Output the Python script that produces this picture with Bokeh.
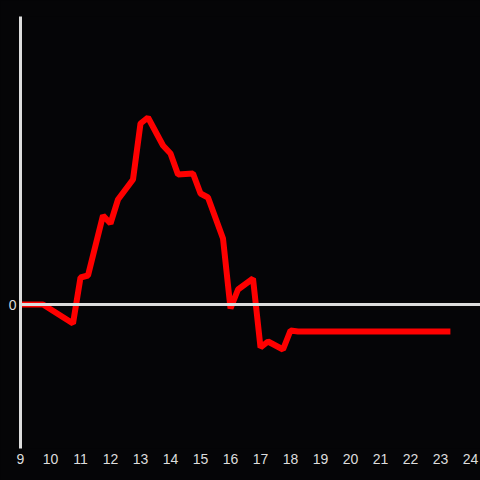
from bokeh.plotting import figure
from bokeh.models import Range1d, FixedTicker, Span
from bokeh.embed import file_html
from bokeh.resources import INLINE

# Data (x = hour of day, y = value; arbitrary units)
hours = [9, 9.75, 10.75, 11, 11.25, 11.75, 12, 12.25, 12.75, 13, 13.25, 13.75,
         14, 14.25, 14.75, 15, 15.25, 15.75, 16, 16.25, 16.75, 17, 17.25, 17.75,
         18, 18.25, 23.33]
values = [0, 0, -19, 27, 29, 89, 81, 105, 125, 181, 187, 159,
          151, 130, 131, 111, 107, 66, -4, 15, 26, -43, -37, -45,
          -26, -27, -27]
x_ticks = list(range(9, 25))
y_ticks = [0]

BG = "#050507"
AX = "#dddddd"

p = figure(width=480, height=480, output_backend="svg", toolbar_location=None,
           x_range=Range1d(9, 24.333), y_range=Range1d(-144, 288),
           min_border_left=20, min_border_right=0, min_border_top=16,
           min_border_bottom=32)
p.background_fill_color = BG
p.border_fill_color = BG
p.outline_line_color = None
p.grid.visible = False

xa = p.xaxis[0]
xa.ticker = FixedTicker(ticks=x_ticks)
xa.axis_line_color = None
xa.major_tick_line_color = None
xa.major_tick_out = 0
xa.major_tick_in = 0
xa.minor_tick_line_color = None
xa.minor_tick_out = 0
xa.major_label_text_color = AX
xa.major_label_text_font = "Liberation Sans"
xa.major_label_text_font_size = "14px"
xa.major_label_standoff = 5

ya = p.yaxis[0]
ya.ticker = FixedTicker(ticks=y_ticks)
ya.axis_line_color = AX
ya.axis_line_width = 3
ya.major_tick_line_color = None
ya.major_tick_out = 0
ya.major_tick_in = 0
ya.minor_tick_line_color = None
ya.minor_tick_out = 0
ya.major_label_text_color = AX
ya.major_label_text_font = "Liberation Sans"
ya.major_label_text_font_size = "14px"
ya.major_label_standoff = 4

p.add_layout(Span(location=0, dimension="width", line_color=AX, line_width=3))

p.line(hours, values, line_color="#ff0000", line_width=6)

html = file_html(p, INLINE)
html = html.replace("</head>", "<style>html,body{background:%s;}</style></head>" % BG, 1)
open("out.html", "w").write(html)
